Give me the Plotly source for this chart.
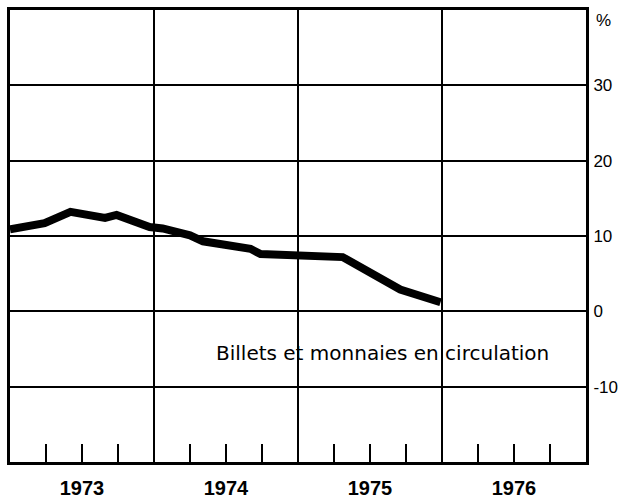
import plotly.graph_objects as go

# Data (decimal years, % change)
dates = [1973.00, 1973.24, 1973.42, 1973.66, 1973.74, 1973.97, 1974.06, 1974.25,
         1974.34, 1974.67, 1974.74, 1975.01, 1975.31, 1975.71, 1975.99]
values = [10.9, 11.7, 13.2, 12.4, 12.8, 11.2, 11.0, 10.1,
          9.3, 8.3, 7.6, 7.4, 7.2, 2.9, 1.2]

years = [1973, 1974, 1975, 1976]
year_mid = [y + 0.5 for y in years]
year_labels = [str(y) for y in years]
y_ticks = [-10, 0, 10, 20, 30]
y_tick_labels = ["-10", "0", "10", "20", "30"]
series_label = "Billets et monnaies en circulation"

FONT = "Liberation Sans, Arial, sans-serif"

fig = go.Figure()
fig.add_trace(go.Scatter(x=dates, y=values, mode="lines",
                         line=dict(color="black", width=8),
                         showlegend=False, hoverinfo="skip"))
# helper invisible trace on the overlay axis (grid + quarter ticks)
fig.add_trace(go.Scatter(x=[1973, 1977], y=[0, 0], xaxis="x2", mode="markers",
                         marker=dict(opacity=0), showlegend=False, hoverinfo="skip"))

fig.update_layout(
    width=625, height=499,
    margin=dict(l=10, r=39, t=10, b=37),
    paper_bgcolor="white", plot_bgcolor="white",
    font=dict(family=FONT, color="black", size=16),
    xaxis=dict(range=[1973, 1977], tickvals=year_mid, ticktext=year_labels,
               ticks="", showgrid=False, zeroline=False, automargin=False,
               showline=True, linecolor="black", linewidth=3, mirror=True,
               tickfont=dict(size=20, family="Liberation Sans Narrow, Arial Narrow, sans-serif",
                             weight="bold"),
               ticklabelstandoff=6),
    xaxis2=dict(range=[1973, 1977], overlaying="x", anchor="y", side="bottom",
                tick0=1973, dtick=1, showticklabels=False, ticks="", automargin=False,
                showgrid=True, gridcolor="black", gridwidth=2, zeroline=False,
                minor=dict(dtick=0.25, tick0=1973, ticks="inside", ticklen=18,
                           tickcolor="black", tickwidth=1.5, showgrid=False)),
    yaxis=dict(range=[-20, 40], side="right", tickvals=y_ticks, ticktext=y_tick_labels,
               ticks="", showgrid=True, gridcolor="black", gridwidth=2, automargin=False,
               zeroline=False, showline=True, linecolor="black", linewidth=3,
               mirror=True, tickfont=dict(size=17), ticklabelstandoff=1),
    annotations=[
        dict(x=1.0, y=40, xref="paper", yref="y", text="%", showarrow=False,
             xanchor="left", yanchor="top", xshift=8, yshift=1,
             font=dict(size=17, family=FONT)),
        dict(x=1975.59, y=-5.5, xref="x", yref="y", text=series_label,
             showarrow=False, font=dict(size=20, family="DejaVu Sans, sans-serif")),
    ],
)

fig.write_html("out.html", config={"displayModeBar": False},
               post_script="document.body.style.margin='0px';")
